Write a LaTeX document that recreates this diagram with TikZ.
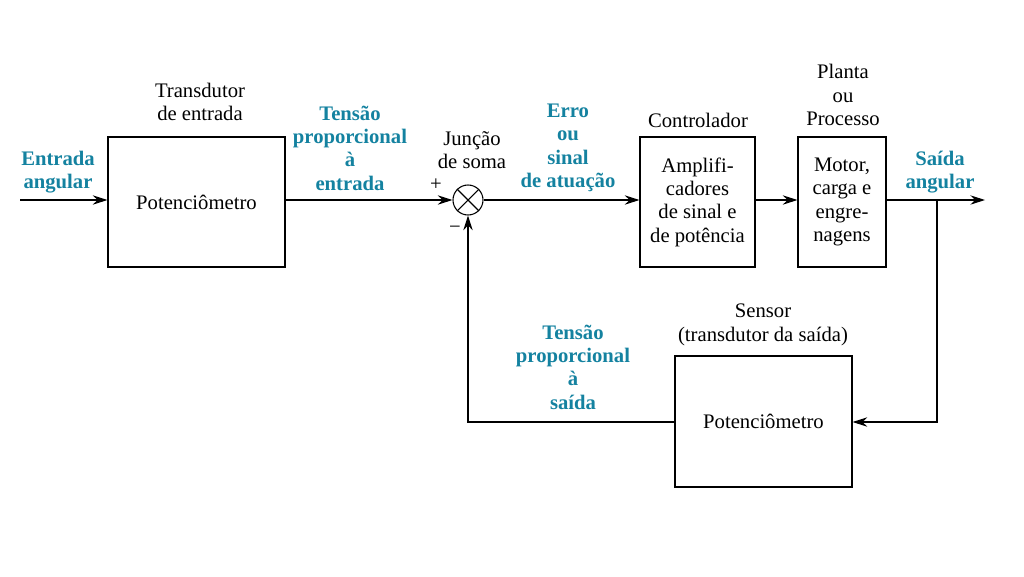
\documentclass[tikz,border=0pt]{standalone}
\usepackage{fontspec}
\setmainfont{Liberation Serif}
\usetikzlibrary{arrows.meta}
\definecolor{teal2}{RGB}{20,130,160}
\begin{document}
\begin{tikzpicture}[x=0.75pt,y=-0.75pt,
  every node/.style={font=\fontsize{15.5}{17.5}\selectfont,align=center,inner sep=1pt},
  blk/.style={draw,thick,minimum width=#1,inner sep=0pt},
  lbl/.style={text=teal2,font=\fontsize{15.5}{17.5}\selectfont\bfseries},
  ar/.style={-{Stealth[length=11pt,width=7pt]},thick}]
\useasboundingbox (0,0) rectangle (1024,576);
\node[blk=132.75pt,minimum height=97.5pt] (b1) at (196.5,202) {Potenciômetro};
\node[blk=86.25pt,minimum height=97.5pt] (b2) at (697.5,202) {Amplifi-\\cadores\\de sinal e\\de potência};
\node[blk=66pt,minimum height=97.5pt] (b3) at (842,202) {Motor,\\carga e\\engre-\\nagens};
\node[blk=132.75pt,minimum height=98.25pt] (b4) at (763.5,421.5) {Potenciômetro};
\node[draw,thick,circle,minimum size=22.5pt,inner sep=0pt] (s) at (468,200) {};
\draw[thick] (s.north west)--(s.south east) (s.north east)--(s.south west);
\coordinate (in) at (20,200);
\coordinate (out) at (985,200);
\coordinate (tap) at (937,200);
\coordinate (c1) at (937,422);
\coordinate (c2) at (468,422);
\draw[ar] (in) -- (b1.west|-in);
\draw[ar] (b1.east|-s) -- (s.west);
\draw[ar] (s.east) -- (b2.west|-s);
\draw[ar] (b2.east|-s) -- (b3.west|-s);
\draw[ar] (b3.east|-s) -- (out);
\draw[ar] (tap) -- (c1) -- (b4.east|-c1);
\draw[ar] (b4.west|-c2) -- (c2) -- (s.south);
\node (t1) at (200,102) {Transdutor\\de entrada};
\node[lbl] (t2) at (58,172) {Entrada\\angular};
\node[lbl] (t3) at (350,148) {Tensão\\proporcional\\à\\entrada};
\node (t4) at (472,150) {Junção\\de soma};
\node (p) at (436,185) {+};
\node (m) at (455,230) {−};
\node[lbl] (t5) at (568,148) {Erro\\ou\\sinal\\de atuação};
\node (t6) at (698,120) {Controlador};
\node (t7) at (843,95) {Planta\\ou\\Processo};
\node[lbl] (t8) at (940,172) {Saída\\angular};
\node (t9) at (763,325) {Sensor\\(transdutor da saída)};
\node[lbl] (t10) at (573,367) {Tensão\\proporcional\\à\\saída};
\end{tikzpicture}
\end{document}
